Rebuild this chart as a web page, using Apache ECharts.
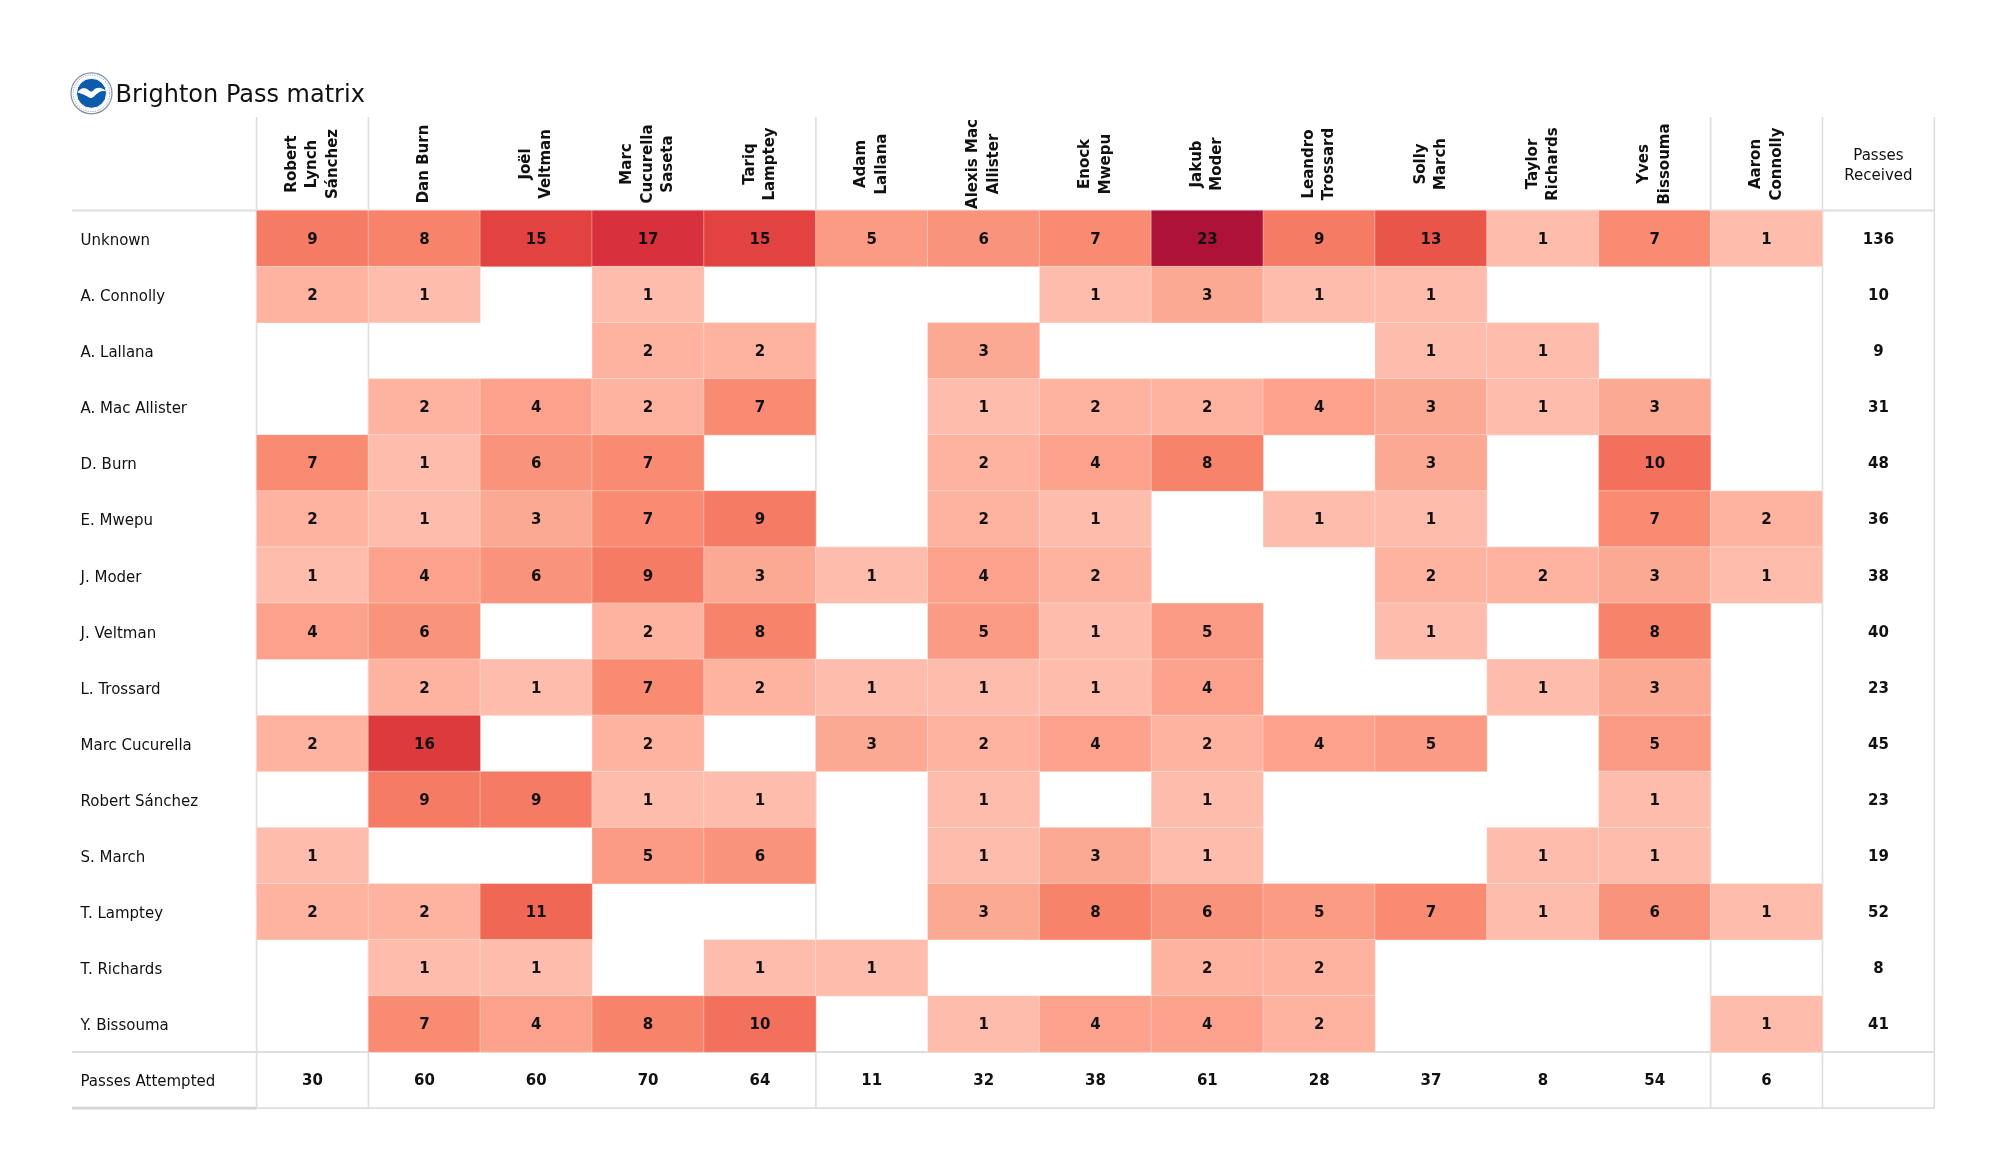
<!DOCTYPE html>
<html><head><meta charset="utf-8">
<script src="https://cdn.jsdelivr.net/npm/echarts@6/dist/echarts.min.js"></script>
<style>html,body{margin:0;padding:0;background:#fff}#c{width:2000px;height:1175px}</style>
</head><body><div id="c"></div>
<script>
// ---------------- DATA ----------------
const passers = ['Unknown','A. Connolly','A. Lallana','A. Mac Allister','D. Burn','E. Mwepu','J. Moder','J. Veltman','L. Trossard','Marc Cucurella','Robert Sánchez','S. March','T. Lamptey','T. Richards','Y. Bissouma'];
const receivers = ['Robert\nLynch\nSánchez','Dan Burn','Joël\nVeltman','Marc\nCucurella\nSaseta','Tariq\nLamptey','Adam\nLallana','Alexis Mac\nAllister','Enock\nMwepu','Jakub\nModer','Leandro\nTrossard','Solly\nMarch','Taylor\nRichards','Yves\nBissouma','Aaron\nConnolly'];
const _ = null;
const passMatrix = [
  [9,8,15,17,15,5,6,7,23,9,13,1,7,1],
  [2,1,_,1,_,_,_,1,3,1,1,_,_,_],
  [_,_,_,2,2,_,3,_,_,_,1,1,_,_],
  [_,2,4,2,7,_,1,2,2,4,3,1,3,_],
  [7,1,6,7,_,_,2,4,8,_,3,_,10,_],
  [2,1,3,7,9,_,2,1,_,1,1,_,7,2],
  [1,4,6,9,3,1,4,2,_,_,2,2,3,1],
  [4,6,_,2,8,_,5,1,5,_,1,_,8,_],
  [_,2,1,7,2,1,1,1,4,_,_,1,3,_],
  [2,16,_,2,_,3,2,4,2,4,5,_,5,_],
  [_,9,9,1,1,_,1,_,1,_,_,_,1,_],
  [1,_,_,5,6,_,1,3,1,_,_,1,1,_],
  [2,2,11,_,_,_,3,8,6,5,7,1,6,1],
  [_,1,1,_,1,1,_,_,2,2,_,_,_,_],
  [_,7,4,8,10,_,1,4,4,2,_,_,_,1]
];
const passesReceived = [136,10,9,31,48,36,38,40,23,45,23,19,52,8,41];
const passesAttempted = [30,60,60,70,64,11,32,38,61,28,37,8,54,6];
const attemptedLabel = 'Passes Attempted';
const receivedLabel = 'Passes\nReceived';
const titleText = 'Brighton Pass matrix';

// ---------------- LAYOUT / STYLE ----------------
const FONT = 'DejaVu Sans';
const LEFT = 256.6, CW = 111.85, TOP = 210.5, RH = 56.1, HTOP = 117, LX = 72;
const NC = receivers.length, NR = passers.length + 1;
const RIGHT = LEFT + (NC + 1) * CW;
const BOTTOM = TOP + NR * RH;
const LINE = '#dedede';

const rowLabels = passers.concat([attemptedLabel]);

const cellData = [];
passMatrix.forEach((row, r) => row.forEach((v, c) => { if (v !== null) cellData.push([c, r, v]); }));
const attData = passesAttempted.map((v, c) => [c, passers.length, v]);
const recData = passesReceived.map((v, r) => [0, r, v]);

const numLabel = { show: true, fontFamily: FONT, fontWeight: 'bold', fontSize: 15, color: '#111', offset: [0, 1.5] };

function vline(x, y1, y2, w) { return { type: 'line', z: 1, shape: { x1: x, y1: y1, x2: x, y2: y2 }, style: { stroke: LINE, lineWidth: w || 1.6 } }; }
function hline(y, x1, x2, w, col) { return { type: 'line', z: 1, shape: { x1: x1, y1: y, x2: x2, y2: y }, style: { stroke: col || LINE, lineWidth: w || 1.6 } }; }

const gull = [[-14,-1],[-10,-4.6],[-5,-4.6],[0,-1.6],[4,-4.8],[9,-5.3],[14,-2.6],[9,-1.9],[5,0.8],[2,3.6],[-1,4.6],[-4,3.1],[-8,1.1],[-11,0.1]];

const chart = echarts.init(document.getElementById('c'), null, { renderer: 'canvas' });
chart.setOption({
  backgroundColor: '#fff',
  animation: false,
  title: {
    text: titleText, left: 115.5, top: 82.5, padding: 0,
    textStyle: { fontFamily: FONT, fontSize: 24, fontWeight: 'normal', color: '#111', lineHeight: 26 }
  },
  grid: [
    { left: LEFT, top: TOP, width: NC * CW, height: NR * RH },
    { left: LEFT + NC * CW, top: TOP, width: CW, height: NR * RH }
  ],
  xAxis: [
    { type: 'category', gridIndex: 0, position: 'top', data: receivers,
      axisLine: { show: false }, axisTick: { show: false }, splitLine: { show: false },
      axisLabel: { interval: 0, rotate: -90, align: 'center', verticalAlign: 'middle', margin: 46.5,
        fontFamily: FONT, fontSize: 15, fontWeight: 'bold', color: '#111', lineHeight: 20.5 } },
    { type: 'category', gridIndex: 1, position: 'top', data: [receivedLabel],
      axisLine: { show: false }, axisTick: { show: false }, splitLine: { show: false },
      axisLabel: { interval: 0, rotate: 0, align: 'center', verticalAlign: 'middle', margin: 44.5,
        fontFamily: FONT, fontSize: 15, color: '#111', lineHeight: 20.5 } }
  ],
  yAxis: [
    { type: 'category', gridIndex: 0, inverse: true, data: rowLabels,
      axisLine: { show: false }, axisTick: { show: false }, splitLine: { show: false },
      axisLabel: { interval: 0, align: 'left', margin: LEFT - 80.5,
        formatter: v => '{a|' + v + '}',
        rich: { a: { fontFamily: FONT, fontSize: 15, color: '#111', padding: [5, 0, 0, 0] } } } },
    { type: 'category', gridIndex: 1, inverse: true, data: rowLabels,
      axisLine: { show: false }, axisTick: { show: false }, splitLine: { show: false },
      axisLabel: { show: false } }
  ],
  visualMap: {
    show: false, type: 'continuous', seriesIndex: 0, min: 1, max: 23, dimension: 2,
    inRange: { color: ['#fdbcac','#fca994','#fb9b83','#f98b72','#f57b64','#f06754','#ea5549','#e24340','#d8303c','#ca2339','#bc1a38','#ae1237'] }
  },
  series: [
    { type: 'heatmap', xAxisIndex: 0, yAxisIndex: 0, data: cellData, z: 2,
      itemStyle: { borderColor: 'rgba(255,255,255,0.35)', borderWidth: 1 },
      label: numLabel, emphasis: { disabled: true } },
    { type: 'heatmap', xAxisIndex: 0, yAxisIndex: 0, data: attData, z: 2,
      itemStyle: { color: 'rgba(0,0,0,0)' }, label: numLabel, emphasis: { disabled: true } },
    { type: 'heatmap', xAxisIndex: 1, yAxisIndex: 1, data: recData, z: 2,
      itemStyle: { color: 'rgba(0,0,0,0)' }, label: numLabel, emphasis: { disabled: true } }
  ],
  graphic: [
    hline(TOP, LX, RIGHT, 1.8),
    hline(TOP + passers.length * RH, LX, RIGHT, 1.8),
    hline(BOTTOM, LX, LEFT, 2.6, '#d4d4d4'),
    hline(BOTTOM, LEFT, RIGHT, 1.8),
    vline(LEFT, HTOP, BOTTOM),
    vline(LEFT + CW, HTOP, BOTTOM),
    vline(LEFT + 5 * CW, HTOP, BOTTOM),
    vline(LEFT + 13 * CW, HTOP, BOTTOM),
    vline(LEFT + 14 * CW, HTOP, BOTTOM),
    vline(RIGHT, HTOP, BOTTOM),
    { type: 'group', x: 91.5, y: 93.3, z: 5, children: [
      { type: 'circle', shape: { cx: 0, cy: 0, r: 20.5 }, style: { fill: '#fff', stroke: '#7f8ea6', lineWidth: 1.2 } },
      { type: 'circle', shape: { cx: 0, cy: 0, r: 18.3 }, style: { fill: 'none', stroke: '#6f87b0', lineWidth: 0.8, lineDash: [1.2, 1.2] } },
      { type: 'circle', shape: { cx: 0, cy: 0, r: 15 }, style: { fill: '#0b5cad', stroke: '#ffffff', lineWidth: 1 } },
      { type: 'polygon', shape: { points: gull, smooth: 0.3 }, style: { fill: '#ffffff' } }
    ] }
  ]
});
</script>
</body></html>
